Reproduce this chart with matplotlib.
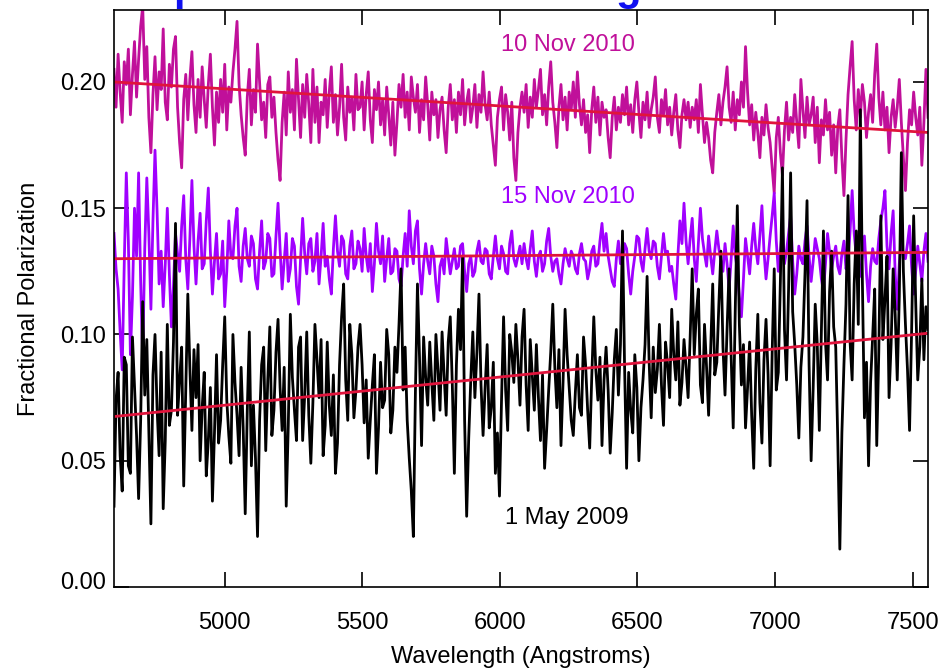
import numpy as np
import matplotlib
matplotlib.use('Agg')
import matplotlib.pyplot as plt
from matplotlib.transforms import ScaledTranslation

plt.rcParams['font.family'] = ['Liberation Sans', 'DejaVu Sans']

# fractional polarization, in units of 0.001 (blue -> red)
nov10 = [205, 190, 211, 196, 184, 208, 199, 213, 187, 203, 216, 194, 209, 222, 230, 201, 214, 186, 172, 195,
         210, 189, 204, 197, 221, 192, 185, 207, 198, 213, 218, 190, 176, 166, 193, 203, 185, 201, 212, 191,
         180, 201, 186, 206, 193, 182, 199, 211, 190, 175, 196, 184, 201, 188, 207, 181, 198, 192, 204, 213,
         224, 199, 187, 178, 171, 194, 205, 183, 197, 188, 215, 200, 185, 192, 178, 199, 202, 186, 194, 180,
         169, 161, 184, 196, 179, 204, 188, 197, 181, 209, 193, 178, 199, 186, 203, 191, 176, 205, 184, 198,
         176, 192, 187, 201, 182, 196, 206, 184, 195, 179, 190, 207, 186, 177, 198, 188, 194, 181, 203, 189,
         190, 200, 181, 195, 204, 185, 176, 197, 189, 200, 183, 193, 179, 198, 187, 175, 192, 171, 184, 199,
         190, 203, 186, 196, 181, 202, 194, 188, 199, 180, 193, 185, 202, 191, 177, 196, 187, 193, 178, 189,
         194, 181, 172, 190, 199, 185, 193, 180, 196, 187, 201, 183, 192, 197, 184, 190, 199, 182, 195, 188,
         204, 191, 185, 196, 183, 175, 167, 186, 193, 198, 181, 195, 188, 177, 192, 170, 161, 180, 190, 196,
         188, 199, 182, 194, 186, 201, 190, 197, 205, 187, 195, 183, 198, 208, 192, 184, 174, 190, 199, 185,
         194, 181, 196, 189, 200, 186, 204, 191, 183, 193, 180, 187, 172, 189, 198, 184, 194, 179, 192, 186,
         189, 178, 170, 186, 194, 181, 190, 184, 195, 187, 198, 183, 191, 180, 193, 200, 188, 178, 192, 185,
         196, 182, 189, 194, 202, 186, 180, 193, 187, 197, 183, 190, 179, 188, 195, 181, 174, 187, 193, 185,
         192, 182, 190, 185, 193, 180, 199, 187, 176, 184, 178, 169, 164, 180, 188, 195, 183, 192, 198, 206,
         190, 184, 196, 181, 193, 187, 200, 190, 214, 196, 183, 191, 177, 188, 180, 170, 186, 179, 191, 182,
         176, 166, 156, 178, 186, 172, 163, 181, 192, 177, 186, 180, 195, 184, 174, 201, 189, 178, 194, 183,
         187, 194, 176, 190, 168, 185, 179, 193, 181, 188, 171, 183, 164, 182, 189, 170, 155, 177, 195, 206,
         216, 193, 181, 197, 186, 199, 192, 178, 188, 195, 184, 203, 215, 194, 183, 196, 181, 190, 172, 186,
         193, 182, 190, 201, 184, 170, 157, 176, 189, 183, 196, 186, 179, 190, 167, 184, 205, 186]

nov15 = [140, 126, 118, 101, 86, 128, 164, 137, 92, 115, 150, 131, 164, 121, 90, 134, 162, 140, 110, 145,
         173, 149, 120, 133, 111, 128, 150, 124, 103, 119, 140, 132, 125, 143, 155, 130, 118, 138, 161, 135,
         120, 137, 148, 126, 128, 145, 158, 133, 116, 129, 140, 122, 124, 137, 111, 125, 145, 131, 130, 143,
         150, 127, 121, 135, 142, 130, 127, 139, 136, 122, 118, 133, 145, 126, 129, 140, 138, 123, 124, 139,
         152, 134, 118, 129, 140, 121, 126, 138, 135, 119, 112, 130, 146, 132, 124, 136, 138, 125, 129, 140,
         120, 131, 144, 127, 131, 122, 116, 134, 147, 133, 127, 139, 137, 124, 122, 135, 141, 126, 128, 137,
         134, 125, 142, 131, 125, 136, 117, 128, 144, 133, 128, 139, 121, 130, 138, 124, 125, 134, 133, 122,
         119, 131, 140, 127, 149, 135, 128, 141, 145, 126, 116, 128, 136, 129, 124, 135, 131, 120, 113, 127,
         130, 124, 138, 131, 124, 129, 134, 126, 127, 135, 136, 125, 117, 128, 131, 123, 125, 133, 137, 129,
         128, 134, 133, 124, 122, 131, 139, 130, 126, 135, 132, 125, 124, 136, 141, 130, 127, 131, 135, 128,
         136, 130, 126, 134, 141, 129, 123, 131, 133, 125, 128, 137, 142, 131, 125, 129, 130, 124, 120, 128,
         134, 130, 127, 133, 131, 126, 124, 132, 136, 130, 129, 122, 126, 133, 135, 127, 128, 137, 144, 133,
         140, 131, 126, 121, 119, 130, 137, 128, 129, 136, 134, 124, 116, 125, 131, 139, 138, 129, 125, 134,
         142, 133, 130, 137, 136, 127, 122, 131, 140, 132, 133, 125, 127, 120, 114, 131, 145, 136, 152, 137,
         128, 138, 146, 130, 121, 136, 150, 138, 132, 127, 139, 131, 124, 133, 141, 134, 129, 125, 136, 128,
         118, 130, 143, 131, 126, 115, 107, 122, 138, 131, 124, 135, 144, 134, 128, 139, 151, 133, 122, 130,
         139, 147, 156, 137, 125, 133, 142, 128, 133, 140, 147, 129, 116, 124, 135, 130, 128, 137, 143, 131,
         121, 129, 138, 134, 130, 122, 117, 128, 140, 133, 126, 131, 135, 127, 124, 132, 137, 126, 129, 141,
         157, 140, 131, 126, 123, 132, 139, 124, 113, 127, 134, 129, 128, 138, 145, 150, 157, 135, 126, 140,
         149, 124, 110, 128, 138, 131, 130, 136, 143, 127, 116, 125, 135, 128, 121, 133, 140, 129]

may09 = [32, 74, 85, 52, 38, 91, 88, 48, 45, 99, 80, 60, 35, 66, 113, 76, 98, 62, 25, 84,
         100, 71, 52, 93, 31, 58, 104, 64, 70, 97, 144, 68, 82, 95, 40, 77, 116, 87, 62, 94,
         75, 96, 50, 71, 85, 44, 58, 79, 34, 61, 92, 57, 66, 88, 107, 74, 60, 49, 100, 81,
         68, 52, 87, 63, 29, 70, 101, 48, 72, 51, 20, 66, 88, 95, 54, 82, 103, 60, 70, 93,
         106, 79, 62, 87, 32, 64, 108, 83, 70, 58, 95, 99, 58, 76, 101, 68, 49, 73, 104, 90,
         75, 98, 52, 64, 97, 72, 60, 84, 45, 57, 88, 107, 120, 82, 66, 104, 92, 67, 78, 95,
         104, 88, 65, 82, 51, 66, 80, 92, 45, 63, 89, 71, 74, 102, 92, 61, 70, 95, 85, 104,
         126, 78, 95, 66, 51, 38, 20, 77, 120, 91, 56, 99, 83, 72, 97, 81, 66, 100, 86, 70,
         101, 84, 68, 97, 107, 80, 45, 88, 110, 94, 131, 66, 28, 59, 82, 101, 75, 93, 116, 80,
         60, 79, 96, 63, 71, 89, 45, 61, 36, 74, 107, 78, 62, 100, 93, 81, 104, 90, 72, 99,
         110, 80, 62, 98, 84, 70, 96, 75, 58, 84, 47, 62, 78, 93, 112, 87, 71, 94, 56, 81,
         110, 92, 79, 66, 60, 77, 92, 71, 68, 99, 88, 70, 55, 83, 107, 86, 74, 91, 56, 82,
         95, 78, 53, 69, 90, 102, 76, 96, 141, 88, 47, 85, 70, 61, 92, 79, 50, 71, 82, 96,
         123, 89, 67, 95, 77, 86, 104, 80, 64, 97, 88, 75, 110, 92, 82, 105, 72, 81, 98, 87,
         75, 99, 126, 92, 108, 118, 80, 73, 104, 87, 68, 94, 120, 84, 89, 112, 133, 95, 76, 102,
         126, 91, 63, 110, 151, 104, 80, 96, 63, 79, 97, 68, 47, 86, 108, 73, 57, 90, 106, 84,
         48, 93, 126, 78, 85, 121, 166, 102, 82, 118, 164, 109, 96, 80, 59, 87, 99, 124, 153, 88,
         50, 79, 112, 96, 62, 101, 141, 97, 82, 117, 133, 103, 95, 58, 15, 61, 88, 112, 155, 97,
         82, 120, 141, 104, 189, 121, 67, 89, 48, 81, 99, 118, 56, 93, 147, 98, 114, 131, 75, 96,
         126, 108, 82, 115, 172, 125, 104, 86, 62, 101, 147, 113, 82, 95, 122, 90, 111, 102]

# linear fits: value at the blue end and at the red end
fit_wave = [4598, 7556]
fit_nov10 = [0.200, 0.180]
fit_nov15 = [0.130, 0.1325]
fit_may09 = [0.0675, 0.1005]

labels = ['10 Nov 2010', '15 Nov 2010', '1 May 2009']

c_nov10 = '#C0109A'
c_nov15 = '#A000FF'
c_fit = '#E0143C'

fig = plt.figure(figsize=(9.40, 6.69), dpi=100)
ax = fig.add_axes([114/940, 1 - 587/669, 814/940, 577/669])

for vals, col in [(nov10, c_nov10), (nov15, c_nov15), (may09, 'black')]:
    y = np.array(vals) / 1000.0
    x = np.linspace(fit_wave[0], fit_wave[1], len(y))
    ax.plot(x, y, color=col, lw=2.0)

for fit in [fit_nov10, fit_nov15, fit_may09]:
    ax.plot(fit_wave, fit, color=c_fit, lw=2.0)

ax.text(6248, 0.2145, labels[0], color=c_nov10, fontsize=17, ha='center', va='center')
ax.text(6248, 0.1543, labels[1], color=c_nov15, fontsize=17, ha='center', va='center')
ax.text(6245, 0.0273, labels[2], color='black', fontsize=17, ha='center', va='center')

ax.set_xlim(4598, 7556)
ax.set_ylim(0, 0.2285)
ax.set_xticks([5000, 5500, 6000, 6500, 7000, 7500])
ax.set_yticks([0.0, 0.05, 0.10, 0.15, 0.20])
ax.set_yticklabels(['0.00', '0.05', '0.10', '0.15', '0.20'])
ax.tick_params(direction='in', length=11, width=1.2, labelsize=17,
               top=True, right=True)
ax.tick_params(axis='x', pad=18)
ax.tick_params(axis='y', pad=6)
for s in ax.spines.values():
    s.set_linewidth(1.2)

# the 0.00 label sits a little above its tick in the original
lab0 = ax.get_yticklabels()[0]
lab0.set_transform(lab0.get_transform() + ScaledTranslation(0, 5/72, fig.dpi_scale_trans))

ax.set_xlabel('Wavelength (Angstroms)', fontsize=17, labelpad=9)
ax.set_ylabel('Fractional Polarization', fontsize=17, labelpad=14)

# bottoms of the cut-off blue title
fig.text(186/940, 1.0, 'p', color='#1010F0', fontsize=30, fontweight='bold',
         ha='center', va='baseline')
fig.text(628/940, 1.0, 'g', color='#1010F0', fontsize=30, fontweight='bold',
         ha='center', va='baseline')

fig.savefig('out.png', dpi=100)
